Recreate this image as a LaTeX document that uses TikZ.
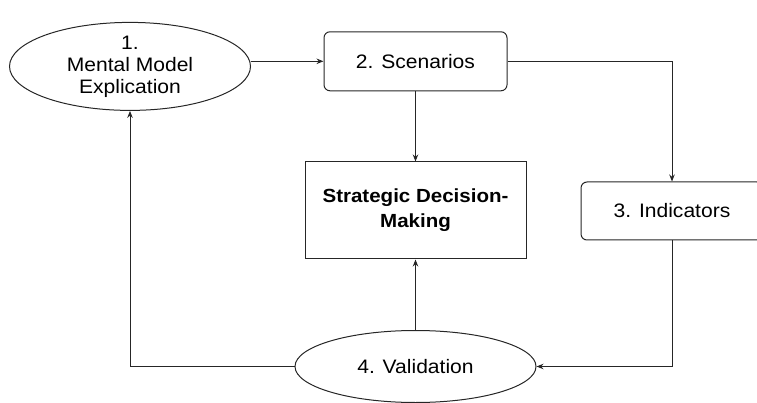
\documentclass[tikz,border=0pt]{standalone}
\usepackage{fontspec}
\setmainfont[FakeStretch=1.08]{Liberation Sans}
\usetikzlibrary{shapes.geometric,arrows.meta}
\begin{document}
\begin{tikzpicture}[x=1pt,y=-1pt,
  every node/.style={font=\fontsize{19.5pt}{22pt}\selectfont, text=black, align=center, inner sep=0pt},
  edge/.style={draw=black!85, line width=1pt},
  stage/.style={ellipse, edge},
  roundbox/.style={rectangle, rounded corners=6pt, edge},
  plainbox/.style={rectangle, edge},
  arr/.style={black!85, line width=1pt, -{Stealth[length=7pt,width=5.5pt]}}]
  \useasboundingbox (0,0) rectangle (757,403);
  \clip (0,0) rectangle (757,403);

  % process stages
  \node[stage, minimum width=241pt, minimum height=88pt] (mm) at (130,66.4) {1.\\Mental Model\\Explication};
  \node[roundbox, minimum width=183pt, minimum height=59pt] (sc) at (415.5,61.3) {2. Scenarios};
  \node[plainbox, minimum width=221pt, minimum height=97pt,
        font=\fontsize{19pt}{25pt}\selectfont\bfseries] (sd) at (415.5,210.5) {Strategic Decision-\\Making};
  \node[roundbox, minimum width=182pt, minimum height=58pt] (ind) at (672,211) {3. Indicators};
  \node[stage, minimum width=241pt, minimum height=72pt] (val) at (415.5,366.5) {4. Validation};

  % cycle connectors
  \draw[arr] (mm.east |- sc.west) -- (sc.west);
  \draw[arr] (sc.south) -- (sd.north);
  \draw[arr] (sc.east) -| (ind.north);
  \draw[arr] (ind.south) |- (val.east);
  \draw[arr] (val.north) -- (sd.south);
  \draw[arr] (val.west) -| (mm.south);
\end{tikzpicture}
\end{document}
